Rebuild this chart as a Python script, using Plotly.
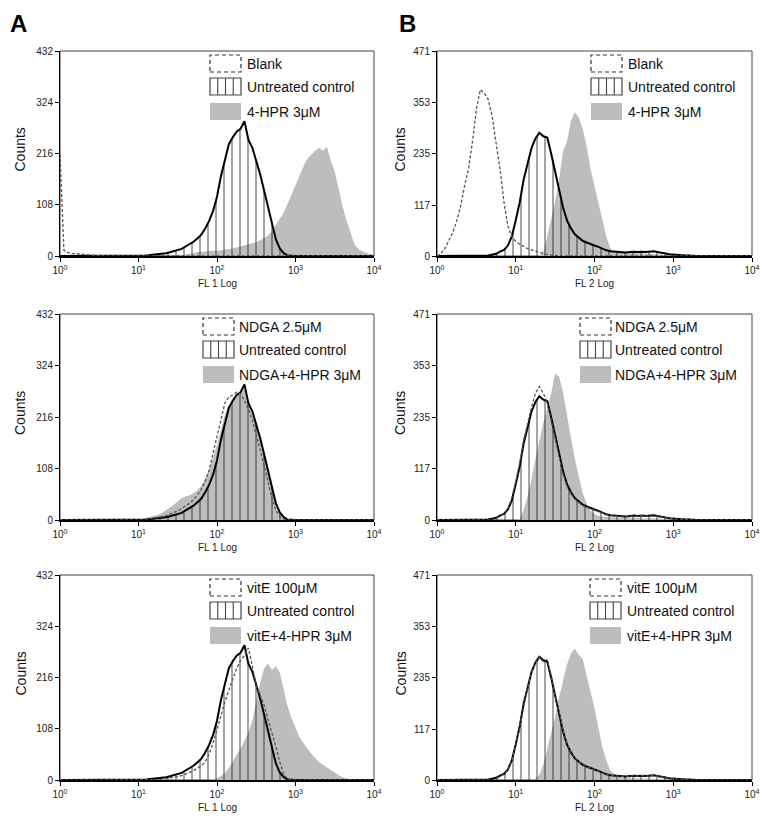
import plotly.graph_objects as go

# ---------------- data ----------------
# channel positions (log10 of fluorescence), 0.05-decade bins
CH_LOG = [0.00, 0.05, 0.10, 0.15, 0.20, 0.25, 0.30, 0.35, 0.40, 0.45,
          0.50, 0.55, 0.60, 0.65, 0.70, 0.75, 0.80, 0.85, 0.90, 0.95,
          1.00, 1.05, 1.10, 1.15, 1.20, 1.25, 1.30, 1.35, 1.40, 1.45,
          1.50, 1.55, 1.60, 1.65, 1.70, 1.75, 1.80, 1.85, 1.90, 1.95,
          2.00, 2.05, 2.10, 2.15, 2.20, 2.25, 2.30, 2.35, 2.40, 2.45,
          2.50, 2.55, 2.60, 2.65, 2.70, 2.75, 2.80, 2.85, 2.90, 2.95,
          3.00, 3.05, 3.10, 3.15, 3.20, 3.25, 3.30, 3.35, 3.40, 3.45,
          3.50, 3.55, 3.60, 3.65, 3.70, 3.75, 3.80, 3.85, 3.90, 3.95,
          4.00]

X_TICKS = [1, 10, 100, 1000, 10000]
X_TICK_TEXT = ["10<sup>0</sup>", "10<sup>1</sup>", "10<sup>2</sup>", "10<sup>3</sup>", "10<sup>4</sup>"]
Y_TICKS_A = [0, 108, 216, 324, 432]
Y_TICKS_B = [0, 117, 235, 353, 471]

# Column A (FL 1)
A_CONTROL = [0, 0, 0, 0, 0, 0, 0, 0, 0, 0, 0, 0, 0, 0, 0, 0, 0, 0, 0, 0,
             0, 0, 1, 2, 3, 3, 5, 6, 8, 10, 12, 15, 20, 25, 30, 37, 45, 58, 74, 95,
             125, 168, 205, 235, 250, 262, 268, 284, 245, 228, 200, 172, 138, 102, 65, 35, 16, 6, 1, 0,
             0, 0, 0, 0, 0, 0, 0, 0, 0, 0, 0, 0, 0, 0, 0, 0, 0, 0, 0, 0,
             0]
A1_BLANK = [215, 12, 7, 5, 5, 4, 3, 2, 2, 1, 1, 0, 0, 0, 0, 0, 0, 0, 0, 0,
            0, 0, 0, 0, 0, 0, 0, 0, 0, 0, 0, 0, 0, 0, 0, 0, 0, 0, 0, 0,
            0, 0, 0, 0, 0, 0, 0, 0, 0, 0, 0, 0, 0, 0, 0, 0, 0, 0, 0, 0,
            0, 0, 0, 0, 0, 0, 0, 0, 0, 0, 0, 0, 0, 0, 0, 0, 0, 0, 0, 0,
            0]
A1_HPR = [0, 0, 0, 0, 0, 0, 0, 0, 0, 0, 0, 0, 0, 0, 0, 0, 0, 0, 0, 0,
          0, 0, 0, 0, 0, 0, 0, 0, 0, 0, 0, 0, 3, 5, 7, 8, 9, 10, 10, 11,
          11, 12, 13, 14, 16, 18, 20, 22, 24, 26, 29, 33, 38, 43, 52, 65, 80, 92, 110, 130,
          150, 170, 188, 205, 214, 222, 228, 222, 230, 200, 178, 140, 105, 75, 48, 25, 15, 10, 7, 4,
          2]
A2_NDGA = [0, 0, 0, 0, 0, 0, 0, 0, 0, 0, 0, 0, 0, 0, 0, 0, 0, 0, 0, 0,
           0, 0, 2, 3, 4, 5, 7, 9, 12, 15, 19, 24, 29, 35, 42, 52, 65, 82, 105, 140,
           178, 215, 245, 258, 262, 268, 265, 250, 232, 210, 180, 150, 115, 80, 45, 20, 7, 2, 0, 0,
           0, 0, 0, 0, 0, 0, 0, 0, 0, 0, 0, 0, 0, 0, 0, 0, 0, 0, 0, 0,
           0]
A2_HPR = [0, 0, 0, 0, 0, 0, 0, 0, 0, 0, 0, 0, 0, 0, 0, 0, 0, 0, 0, 0,
          1, 2, 4, 6, 8, 11, 15, 20, 26, 32, 40, 46, 50, 52, 56, 62, 72, 86, 106, 130,
          158, 190, 220, 240, 252, 262, 272, 276, 245, 222, 195, 165, 130, 95, 58, 28, 10, 3, 0, 0,
          0, 0, 0, 0, 0, 0, 0, 0, 0, 0, 0, 0, 0, 0, 0, 0, 0, 0, 0, 0,
          0]
A3_VITE = [0, 0, 0, 0, 0, 0, 0, 0, 0, 0, 0, 0, 0, 0, 0, 0, 0, 0, 0, 0,
           0, 0, 0, 0, 1, 1, 2, 3, 4, 5, 7, 9, 12, 16, 20, 25, 30, 38, 55, 78,
           105, 135, 165, 190, 212, 235, 252, 262, 278, 240, 200, 178, 158, 128, 100, 70, 38, 12, 3, 0,
           0, 0, 0, 0, 0, 0, 0, 0, 0, 0, 0, 0, 0, 0, 0, 0, 0, 0, 0, 0,
           0]
A3_HPR = [0, 0, 0, 0, 0, 0, 0, 0, 0, 0, 0, 0, 0, 0, 0, 0, 0, 0, 0, 0,
          0, 0, 0, 0, 0, 0, 0, 0, 0, 0, 0, 0, 0, 0, 0, 0, 0, 0, 0, 2,
          4, 8, 14, 25, 40, 52, 66, 82, 100, 125, 168, 205, 235, 246, 232, 240, 226, 190, 155, 130,
          110, 90, 78, 66, 56, 47, 38, 32, 26, 21, 16, 10, 6, 3, 1, 0, 0, 0, 0, 0,
          0]

# Column B (FL 2)
B_CONTROL = [0, 0, 0, 0, 0, 0, 0, 0, 0, 0, 0, 0, 0, 1, 3, 5, 10, 14, 24, 45,
             82, 123, 175, 215, 248, 270, 283, 275, 272, 235, 192, 150, 112, 82, 64, 50, 42, 35, 31, 27,
             24, 21, 17, 13, 11, 10, 9, 8, 8, 9, 10, 9, 10, 9, 10, 11, 9, 8, 6, 4,
             3, 2, 2, 1, 1, 0, 0, 0, 0, 0, 0, 0, 0, 0, 0, 0, 0, 0, 0, 0,
             0]
B1_BLANK = [0, 6, 17, 35, 54, 80, 115, 161, 200, 262, 337, 382, 374, 360, 322, 260, 200, 125, 69, 45,
            33, 27, 22, 17, 14, 11, 8, 5, 3, 2, 1, 0, 0, 0, 0, 0, 0, 0, 0, 0,
            0, 0, 0, 0, 0, 0, 0, 0, 0, 0, 0, 0, 0, 0, 0, 0, 0, 0, 0, 0,
            0, 0, 0, 0, 0, 0, 0, 0, 0, 0, 0, 0, 0, 0, 0, 0, 0, 0, 0, 0,
            0]
B1_HPR = [0, 0, 0, 0, 0, 0, 0, 0, 0, 0, 0, 0, 0, 0, 0, 0, 0, 0, 0, 0,
          0, 0, 0, 0, 0, 0, 2, 8, 45, 85, 125, 175, 240, 262, 310, 330, 318, 292, 253, 200,
          160, 125, 85, 45, 18, 11, 9, 8, 8, 7, 7, 6, 6, 5, 5, 4, 4, 3, 3, 3,
          2, 2, 2, 1, 1, 1, 1, 0, 0, 0, 0, 0, 0, 0, 0, 0, 0, 0, 0, 0,
          0]
B2_NDGA = [0, 0, 0, 0, 0, 0, 0, 0, 0, 0, 0, 0, 0, 0, 0, 4, 10, 15, 26, 50,
           88, 130, 182, 222, 258, 290, 305, 290, 268, 228, 185, 142, 105, 78, 60, 48, 40, 33, 29, 25,
           22, 19, 15, 12, 10, 9, 8, 8, 8, 9, 9, 9, 10, 9, 9, 10, 9, 7, 5, 4,
           3, 2, 1, 1, 0, 0, 0, 0, 0, 0, 0, 0, 0, 0, 0, 0, 0, 0, 0, 0,
           0]
B2_HPR = [0, 0, 0, 0, 0, 0, 0, 0, 0, 0, 0, 0, 0, 0, 0, 0, 0, 0, 0, 0,
          0, 3, 22, 55, 92, 140, 182, 222, 258, 290, 335, 328, 292, 245, 190, 140, 100, 62, 38, 22,
          14, 10, 8, 7, 7, 6, 6, 6, 5, 5, 5, 5, 4, 4, 4, 4, 3, 3, 3, 3,
          2, 2, 2, 2, 1, 1, 1, 0, 0, 0, 0, 0, 0, 0, 0, 0, 0, 0, 0, 0,
          0]
B3_VITE = [0, 0, 0, 0, 0, 0, 0, 0, 0, 0, 0, 0, 0, 0, 0, 3, 9, 13, 22, 44,
           80, 122, 172, 212, 245, 268, 282, 272, 276, 240, 195, 152, 115, 85, 65, 51, 43, 36, 31, 27,
           24, 20, 16, 13, 11, 10, 9, 8, 8, 9, 10, 9, 10, 9, 10, 10, 9, 7, 5, 4,
           3, 2, 1, 1, 0, 0, 0, 0, 0, 0, 0, 0, 0, 0, 0, 0, 0, 0, 0, 0,
           0]
B3_HPR = [0, 0, 0, 0, 0, 0, 0, 0, 0, 0, 0, 0, 0, 0, 0, 0, 0, 0, 0, 0,
          0, 0, 0, 0, 0, 4, 12, 35, 70, 110, 145, 190, 230, 265, 290, 302, 288, 278, 240, 205,
          165, 120, 75, 45, 22, 14, 9, 6, 5, 5, 4, 4, 4, 3, 3, 3, 3, 2, 2, 2,
          2, 1, 1, 1, 1, 1, 1, 0, 0, 0, 0, 0, 0, 0, 0, 0, 0, 0, 0, 0,
          0]

for arr in (A_CONTROL, A1_BLANK, A1_HPR, A2_NDGA, A2_HPR, A3_VITE, A3_HPR,
            B_CONTROL, B1_BLANK, B1_HPR, B2_NDGA, B2_HPR, B3_VITE, B3_HPR):
    assert len(arr) == len(CH_LOG)

FL = [10 ** v for v in CH_LOG]

# ---------------- style / layout ----------------
FONT = "Liberation Sans"
W, H = 764, 822
GREY = "#bdbdbd"
COL_X = {"A": (60, 374), "B": (437, 752)}          # page pixels
ROW_Y = [(51, 256), (314, 520), (575, 780)]        # page pixels


def pfx(px):
    return px / W


def pfy(py):
    return 1 - py / H


panels = [
    dict(col="A", row=0, xt="FL 1 Log", ymax=432, yt=Y_TICKS_A, ctrl=A_CONTROL,
         dash=A1_BLANK, grey=A1_HPR, names=("Blank", "Untreated control", "4-HPR 3μM"), sw=150, tx=185),
    dict(col="B", row=0, xt="FL 2 Log", ymax=471, yt=Y_TICKS_B, ctrl=B_CONTROL,
         dash=B1_BLANK, grey=B1_HPR, names=("Blank", "Untreated control", "4-HPR 3μM"), sw=154, tx=189),
    dict(col="A", row=1, xt="FL 1 Log", ymax=432, yt=Y_TICKS_A, ctrl=A_CONTROL,
         dash=A2_NDGA, grey=A2_HPR, names=("NDGA 2.5μM", "Untreated control", "NDGA+4-HPR 3μM"), sw=143, tx=177),
    dict(col="B", row=1, xt="FL 2 Log", ymax=471, yt=Y_TICKS_B, ctrl=B_CONTROL,
         dash=B2_NDGA, grey=B2_HPR, names=("NDGA 2.5μM", "Untreated control", "NDGA+4-HPR 3μM"), sw=143, tx=176),
    dict(col="A", row=2, xt="FL 1 Log", ymax=432, yt=Y_TICKS_A, ctrl=A_CONTROL,
         dash=A3_VITE, grey=A3_HPR, names=("vitE 100μM", "Untreated control", "vitE+4-HPR 3μM"), sw=150, tx=185),
    dict(col="B", row=2, xt="FL 2 Log", ymax=471, yt=Y_TICKS_B, ctrl=B_CONTROL,
         dash=B3_VITE, grey=B3_HPR, names=("vitE 100μM", "Untreated control", "vitE+4-HPR 3μM"), sw=153, tx=188),
]

LEG_ROWS = [(4, 21, 13), (27, 44, 36), (52, 69, 61)]  # swatch top, bottom, text centre (px from panel top)
SW_W = 31

fig = go.Figure()
layout = dict(width=W, height=H, margin=dict(l=0, r=0, t=0, b=0, pad=0, autoexpand=False),
              paper_bgcolor="white", plot_bgcolor="white", showlegend=False,
              font=dict(family=FONT, color="#111"))
shapes, annotations = [], []

for k, p in enumerate(panels, start=1):
    sfx = "" if k == 1 else str(k)
    xr, yr = "x" + sfx, "y" + sfx
    x0, x1 = COL_X[p["col"]]
    y0, y1 = ROW_Y[p["row"]]
    pw, ph = x1 - x0, y1 - y0

    fig.add_trace(go.Scatter(x=FL, y=p["grey"], xaxis=xr, yaxis=yr, mode="lines",
                             fill="tozeroy", fillcolor=GREY, line=dict(width=0, color=GREY),
                             hoverinfo="skip"))
    fig.add_trace(go.Scatter(x=FL, y=p["ctrl"], xaxis=xr, yaxis=yr, mode="lines",
                             fill="tozeroy", fillcolor="rgba(0,0,0,0)",
                             fillpattern=dict(shape="|", size=8, solidity=0.2,
                                              fgcolor="#1a1a1a", bgcolor="rgba(0,0,0,0)"),
                             line=dict(color="black", width=2), hoverinfo="skip"))
    fig.add_trace(go.Scatter(x=FL, y=p["dash"], xaxis=xr, yaxis=yr, mode="lines",
                             line=dict(color="#555555", width=1.3, dash="3px,2px"),
                             hoverinfo="skip"))

    layout["xaxis" + sfx] = dict(
        domain=[pfx(x0), pfx(x1)], anchor=yr, type="log", range=[0, 4], automargin=False,
        tickmode="array", tickvals=X_TICKS, ticktext=X_TICK_TEXT,
        ticks="outside", ticklen=4, tickwidth=1, tickcolor="black",
        showline=True, linecolor="black", linewidth=2, showgrid=False, zeroline=False,
        tickfont=dict(family=FONT, size=10, color="#222"), fixedrange=True)
    layout["yaxis" + sfx] = dict(
        domain=[pfy(y1), pfy(y0)], anchor=xr, range=[0, p["ymax"]], automargin=False,
        tickmode="array", tickvals=p["yt"], ticks="outside", ticklen=4, tickwidth=1,
        tickcolor="black", showline=True, linecolor="black", linewidth=1,
        showgrid=False, zeroline=False,
        tickfont=dict(family=FONT, size=10, color="#222"), fixedrange=True)

    xd, yd = xr + " domain", yr + " domain"
    # frame (top/right)
    shapes.append(dict(type="rect", xref=xd, yref=yd, x0=0, x1=1, y0=0, y1=1,
                       line=dict(color="#444", width=1), layer="below"))

    fx = lambda px: px / pw
    fy = lambda py: 1 - py / ph
    sx0, sx1 = fx(p["sw"]), fx(p["sw"] + SW_W)
    # legend swatches
    r = LEG_ROWS[0]
    shapes.append(dict(type="rect", xref=xd, yref=yd, x0=sx0, x1=sx1, y0=fy(r[1]), y1=fy(r[0]),
                       line=dict(color="#333", width=1.2, dash="4px,3px"), layer="above"))
    r = LEG_ROWS[1]
    shapes.append(dict(type="rect", xref=xd, yref=yd, x0=sx0, x1=sx1, y0=fy(r[1]), y1=fy(r[0]),
                       line=dict(color="#444", width=1.2), layer="above"))
    for j in (1, 2, 3):
        xx = fx(p["sw"] + SW_W * j / 4)
        shapes.append(dict(type="line", xref=xd, yref=yd, x0=xx, x1=xx, y0=fy(r[1]), y1=fy(r[0]),
                           line=dict(color="#444", width=1.1), layer="above"))
    r = LEG_ROWS[2]
    shapes.append(dict(type="rect", xref=xd, yref=yd, x0=sx0, x1=sx1, y0=fy(r[1]), y1=fy(r[0]),
                       fillcolor=GREY, line=dict(width=0), layer="above"))
    for name, r in zip(p["names"], LEG_ROWS):
        annotations.append(dict(text=name, xref=xd, yref=yd, x=fx(p["tx"]), y=fy(r[2]),
                                xanchor="left", yanchor="middle", showarrow=False,
                                font=dict(family=FONT, size=14, color="#111")))

    # axis titles
    annotations.append(dict(text=p["xt"], xref="paper", yref="paper",
                            x=pfx((x0 + x1) / 2), y=pfy(y1 + 27),
                            xanchor="center", yanchor="middle", showarrow=False,
                            font=dict(family=FONT, size=10, color="#222")))
    cx = 20 if p["col"] == "A" else 400
    annotations.append(dict(text="Counts", xref="paper", yref="paper",
                            x=pfx(cx), y=pfy((y0 + y1) / 2 - 4), textangle=-90,
                            xanchor="center", yanchor="middle", showarrow=False,
                            font=dict(family=FONT, size=14, color="#111")))

# panel letters
annotations.append(dict(text="<b>A</b>", xref="paper", yref="paper", x=pfx(18), y=pfy(23),
                        xanchor="center", yanchor="middle", showarrow=False,
                        font=dict(family=FONT, size=24, color="black")))
annotations.append(dict(text="<b>B</b>", xref="paper", yref="paper", x=pfx(407), y=pfy(23),
                        xanchor="center", yanchor="middle", showarrow=False,
                        font=dict(family=FONT, size=24, color="black")))

layout["shapes"] = shapes
layout["annotations"] = annotations
fig.update_layout(**layout)

fig.write_html("out.html", config={"displayModeBar": False},
               post_script="document.body.style.margin='0px';"
                           "document.documentElement.style.overflow='hidden';")
